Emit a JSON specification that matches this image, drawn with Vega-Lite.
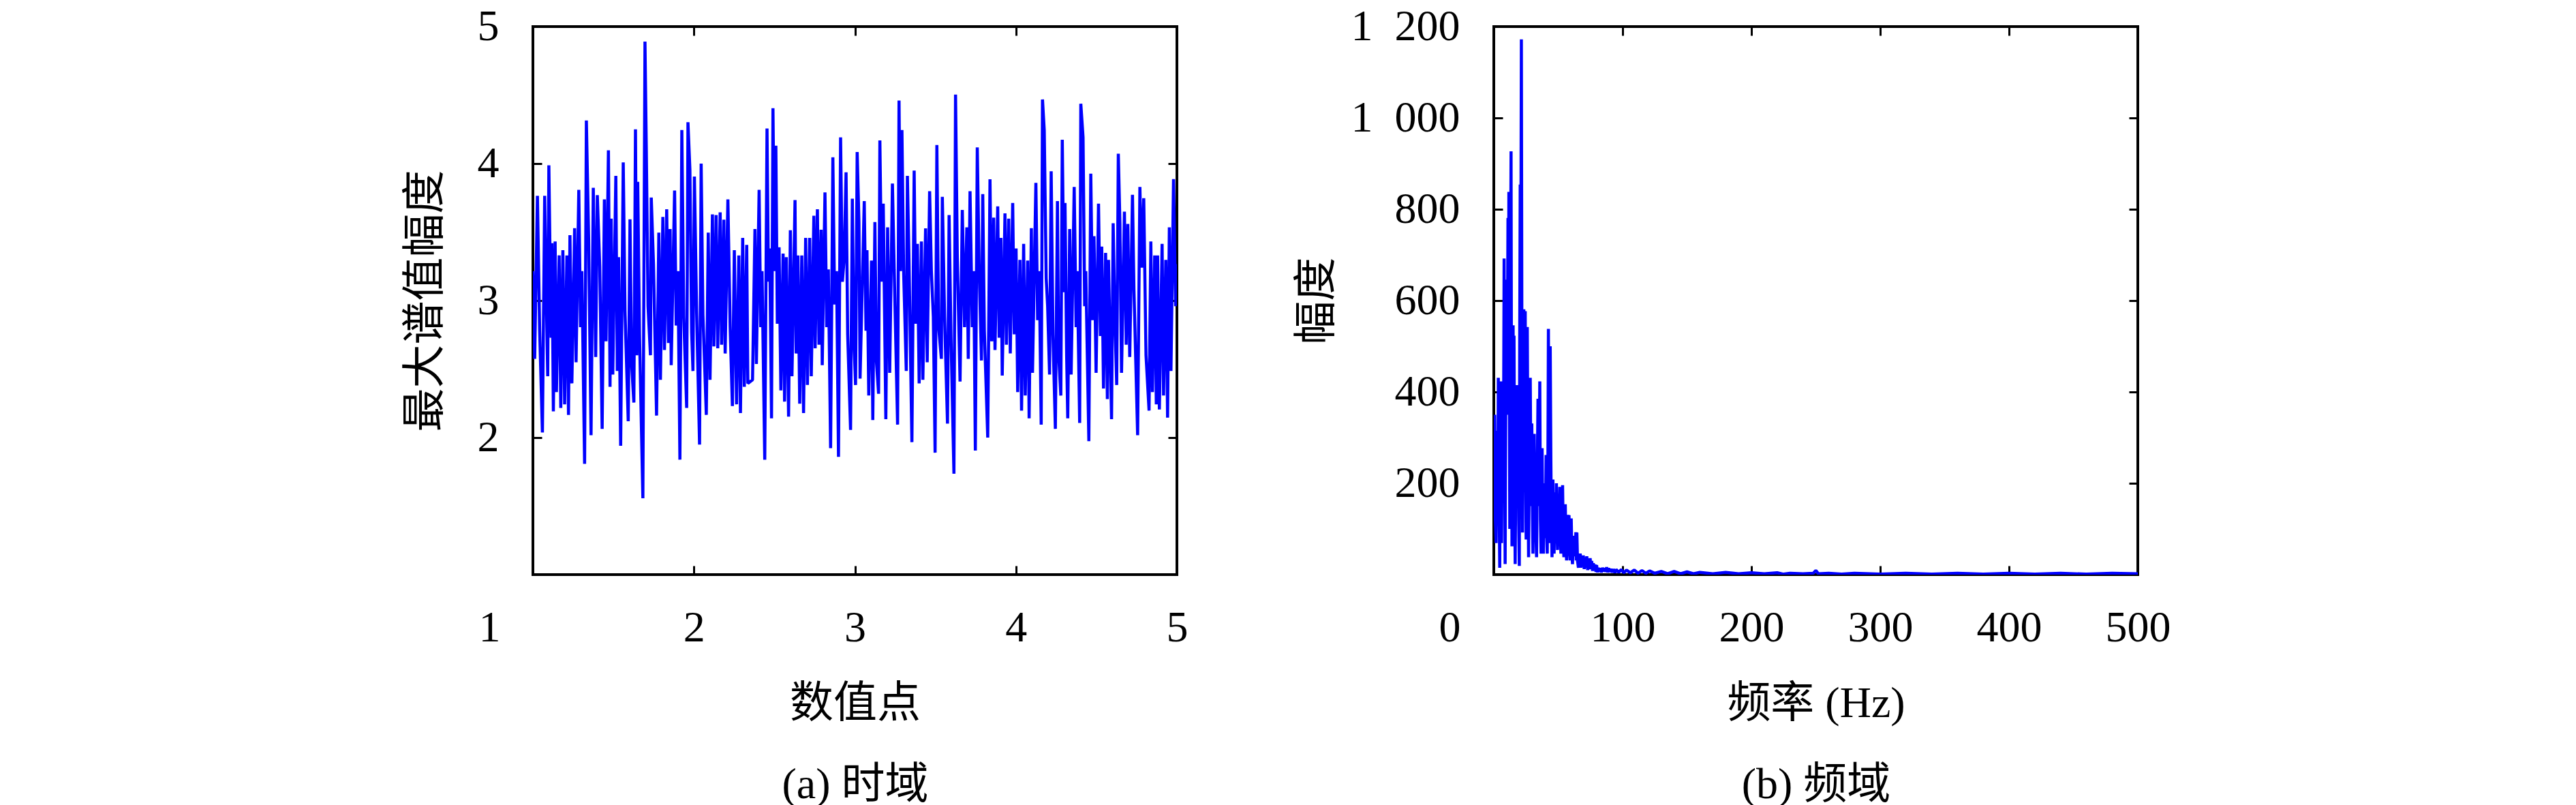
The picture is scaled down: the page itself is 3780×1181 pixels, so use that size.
{
  "$schema": "https://vega.github.io/schema/vega-lite/v6.json",
  "background": "white",
  "padding": {"left": 590, "top": 5, "right": 0, "bottom": 0},
  "spacing": 153,
  "config": {
    "font": "Liberation Serif, Noto Sans CJK SC",
    "view": {"stroke": "black", "strokeWidth": 4},
    "axis": {
      "grid": false,
      "domain": false,
      "labelFont": "Liberation Serif, Noto Sans CJK SC",
      "titleFont": "Liberation Serif, Noto Sans CJK SC",
      "labelFontSize": 64,
      "titleFontSize": 64,
      "titleFontWeight": "normal",
      "labelColor": "black",
      "titleColor": "black",
      "tickColor": "black",
      "tickWidth": 3,
      "tickSize": -13,
      "labelFlush": false,
      "labelOverlap": false,
      "labelBound": false
    },
    "axisX": {"labelPadding": 59, "titlePadding": 47, "titleLineHeight": 119},
    "axisY": {"labelPadding": 63, "titlePadding": 40}
  },
  "datasets": {
    "ts": [
      {"x":1.000,"y":3.215},{"x":1.011,"y":2.575},{"x":1.028,"y":3.765},{"x":1.042,"y":2.780},{"x":1.059,"y":2.038},{"x":1.073,"y":3.765},{"x":1.085,"y":2.908},{"x":1.092,"y":2.448},{"x":1.099,"y":3.987},{"x":1.113,"y":2.729},{"x":1.118,"y":3.419},{"x":1.127,"y":2.192},{"x":1.138,"y":3.432},{"x":1.146,"y":2.332},{"x":1.163,"y":3.330},{"x":1.173,"y":2.217},{"x":1.186,"y":3.368},{"x":1.197,"y":2.243},{"x":1.211,"y":3.330},{"x":1.221,"y":2.166},{"x":1.230,"y":3.478},{"x":1.242,"y":2.396},{"x":1.259,"y":3.529},{"x":1.268,"y":2.550},{"x":1.285,"y":3.808},{"x":1.296,"y":2.806},{"x":1.304,"y":3.215},{"x":1.321,"y":1.808},{"x":1.332,"y":4.314},{"x":1.346,"y":3.458},{"x":1.361,"y":2.018},{"x":1.375,"y":3.823},{"x":1.390,"y":2.588},{"x":1.400,"y":3.770},{"x":1.415,"y":3.253},{"x":1.430,"y":2.064},{"x":1.444,"y":3.739},{"x":1.454,"y":2.703},{"x":1.469,"y":4.097},{"x":1.479,"y":2.371},{"x":1.486,"y":3.598},{"x":1.496,"y":2.460},{"x":1.515,"y":3.910},{"x":1.524,"y":2.486},{"x":1.532,"y":3.317},{"x":1.545,"y":1.941},{"x":1.561,"y":4.008},{"x":1.572,"y":2.921},{"x":1.592,"y":2.120},{"x":1.603,"y":3.593},{"x":1.613,"y":2.537},{"x":1.627,"y":2.256},{"x":1.637,"y":4.250},{"x":1.645,"y":2.601},{"x":1.651,"y":3.867},{"x":1.662,"y":2.754},{"x":1.683,"y":1.557},{"x":1.696,"y":4.890},{"x":1.704,"y":4.135},{"x":1.715,"y":2.959},{"x":1.730,"y":2.601},{"x":1.735,"y":3.752},{"x":1.749,"y":3.266},{"x":1.768,"y":2.161},{"x":1.782,"y":3.496},{"x":1.792,"y":2.422},{"x":1.807,"y":3.611},{"x":1.817,"y":2.640},{"x":1.831,"y":3.667},{"x":1.842,"y":2.691},{"x":1.852,"y":3.522},{"x":1.859,"y":2.529},{"x":1.880,"y":3.803},{"x":1.890,"y":2.818},{"x":1.901,"y":3.215},{"x":1.913,"y":1.839},{"x":1.925,"y":4.245},{"x":1.937,"y":2.882},{"x":1.955,"y":2.217},{"x":1.963,"y":4.302},{"x":1.975,"y":3.956},{"x":1.986,"y":2.767},{"x":1.994,"y":2.486},{"x":2.003,"y":3.905},{"x":2.017,"y":2.908},{"x":2.035,"y":1.949},{"x":2.045,"y":4.000},{"x":2.056,"y":2.895},{"x":2.077,"y":2.166},{"x":2.089,"y":3.496},{"x":2.100,"y":2.422},{"x":2.115,"y":3.629},{"x":2.124,"y":2.665},{"x":2.138,"y":3.624},{"x":2.148,"y":2.652},{"x":2.163,"y":3.644},{"x":2.172,"y":2.678},{"x":2.186,"y":3.591},{"x":2.194,"y":2.614},{"x":2.211,"y":3.739},{"x":2.225,"y":2.806},{"x":2.239,"y":2.230},{"x":2.251,"y":3.368},{"x":2.265,"y":2.243},{"x":2.279,"y":3.330},{"x":2.289,"y":2.179},{"x":2.303,"y":3.458},{"x":2.313,"y":2.371},{"x":2.328,"y":3.407},{"x":2.335,"y":2.396},
      {"x":2.364,"y":2.422},{"x":2.379,"y":3.522},{"x":2.388,"y":2.537},{"x":2.405,"y":3.808},{"x":2.415,"y":2.806},{"x":2.423,"y":3.215},{"x":2.440,"y":1.839},{"x":2.454,"y":4.256},{"x":2.463,"y":3.138},{"x":2.471,"y":3.381},{"x":2.482,"y":2.141},{"x":2.491,"y":4.404},{"x":2.501,"y":3.215},{"x":2.509,"y":4.130},{"x":2.518,"y":2.831},{"x":2.529,"y":3.389},{"x":2.540,"y":2.345},{"x":2.554,"y":3.343},{"x":2.563,"y":2.263},{"x":2.574,"y":3.317},{"x":2.588,"y":2.153},{"x":2.599,"y":3.514},{"x":2.609,"y":2.448},{"x":2.628,"y":3.734},{"x":2.635,"y":2.614},{"x":2.646,"y":3.330},{"x":2.657,"y":2.248},{"x":2.670,"y":3.330},{"x":2.681,"y":2.179},{"x":2.694,"y":3.458},{"x":2.705,"y":2.384},{"x":2.719,"y":3.458},{"x":2.729,"y":2.448},{"x":2.745,"y":3.619},{"x":2.753,"y":2.652},{"x":2.767,"y":3.667},{"x":2.777,"y":2.678},{"x":2.790,"y":3.517},{"x":2.797,"y":2.529},{"x":2.814,"y":3.790},{"x":2.825,"y":2.806},{"x":2.835,"y":3.228},{"x":2.849,"y":1.923},{"x":2.863,"y":4.046},{"x":2.874,"y":2.972},{"x":2.886,"y":3.215},{"x":2.898,"y":1.859},{"x":2.911,"y":4.192},{"x":2.922,"y":3.138},{"x":2.934,"y":3.317},{"x":2.945,"y":3.936},{"x":2.955,"y":2.754},{"x":2.973,"y":2.056},{"x":2.984,"y":3.744},{"x":2.994,"y":2.703},{"x":3.004,"y":2.384},{"x":3.014,"y":4.084},{"x":3.025,"y":3.573},{"x":3.032,"y":2.430},{"x":3.058,"y":3.726},{"x":3.069,"y":2.780},{"x":3.075,"y":3.368},{"x":3.086,"y":2.307},{"x":3.103,"y":3.292},{"x":3.111,"y":2.128},{"x":3.124,"y":3.573},{"x":3.134,"y":2.550},{"x":3.147,"y":2.320},{"x":3.155,"y":4.169},{"x":3.166,"y":3.138},{"x":3.176,"y":3.708},{"x":3.192,"y":2.135},{"x":3.203,"y":3.535},{"x":3.216,"y":2.473},{"x":3.233,"y":3.854},{"x":3.244,"y":3.228},{"x":3.265,"y":2.095},{"x":3.274,"y":4.460},{"x":3.283,"y":3.215},{"x":3.292,"y":4.245},{"x":3.303,"y":3.189},{"x":3.319,"y":2.486},{"x":3.326,"y":3.910},{"x":3.336,"y":3.292},{"x":3.354,"y":1.967},{"x":3.368,"y":3.949},{"x":3.378,"y":2.831},{"x":3.388,"y":3.414},{"x":3.399,"y":2.396},{"x":3.413,"y":3.432},{"x":3.422,"y":2.422},{"x":3.439,"y":3.527},{"x":3.449,"y":2.550},{"x":3.464,"y":3.798},{"x":3.475,"y":3.215},{"x":3.487,"y":2.882},{"x":3.498,"y":1.890},{"x":3.509,"y":4.135},{"x":3.520,"y":2.806},{"x":3.537,"y":2.575},{"x":3.543,"y":3.757},{"x":3.557,"y":2.882},{"x":3.575,"y":2.102},{"x":3.585,"y":3.624},{"x":3.597,"y":2.729},{"x":3.615,"y":1.736},{"x":3.625,"y":4.504},{"x":3.636,"y":3.317},{"x":3.653,"y":2.409},{"x":3.667,"y":3.662},{"x":3.681,"y":2.806},
      {"x":3.695,"y":3.535},{"x":3.704,"y":2.575},{"x":3.715,"y":3.798},{"x":3.729,"y":2.806},{"x":3.738,"y":3.215},{"x":3.748,"y":1.905},{"x":3.760,"y":4.118},{"x":3.772,"y":3.215},{"x":3.786,"y":2.563},{"x":3.794,"y":3.777},{"x":3.804,"y":2.780},{"x":3.825,"y":2.000},{"x":3.839,"y":3.885},{"x":3.850,"y":2.703},{"x":3.862,"y":3.606},{"x":3.870,"y":2.640},{"x":3.887,"y":3.688},{"x":3.896,"y":2.729},{"x":3.907,"y":3.458},{"x":3.915,"y":2.453},{"x":3.932,"y":3.637},{"x":3.941,"y":2.678},{"x":3.955,"y":3.598},{"x":3.965,"y":2.614},{"x":3.980,"y":3.713},{"x":3.990,"y":2.754},{"x":4.001,"y":3.381},{"x":4.011,"y":2.332},{"x":4.025,"y":3.297},{"x":4.035,"y":2.197},{"x":4.048,"y":3.414},{"x":4.058,"y":2.307},{"x":4.073,"y":3.292},{"x":4.082,"y":2.141},{"x":4.096,"y":3.529},{"x":4.103,"y":2.473},{"x":4.124,"y":3.859},{"x":4.135,"y":2.857},{"x":4.145,"y":3.215},{"x":4.157,"y":2.095},{"x":4.165,"y":4.468},{"x":4.176,"y":4.243},{"x":4.188,"y":3.164},{"x":4.197,"y":2.959},{"x":4.209,"y":2.460},{"x":4.219,"y":3.944},{"x":4.230,"y":2.754},{"x":4.245,"y":2.064},{"x":4.258,"y":3.726},{"x":4.265,"y":2.614},{"x":4.279,"y":2.307},{"x":4.288,"y":4.174},{"x":4.298,"y":3.061},{"x":4.305,"y":3.713},{"x":4.315,"y":2.601},{"x":4.322,"y":2.141},{"x":4.334,"y":3.522},{"x":4.343,"y":2.460},{"x":4.362,"y":3.829},{"x":4.374,"y":2.806},{"x":4.381,"y":3.215},{"x":4.396,"y":2.107},{"x":4.403,"y":4.437},{"x":4.417,"y":4.192},{"x":4.427,"y":2.959},{"x":4.434,"y":3.215},{"x":4.453,"y":1.974},{"x":4.465,"y":3.926},{"x":4.477,"y":2.857},{"x":4.485,"y":3.470},{"x":4.498,"y":2.473},{"x":4.513,"y":3.708},{"x":4.525,"y":2.742},{"x":4.533,"y":3.394},{"x":4.544,"y":2.358},{"x":4.557,"y":3.348},{"x":4.568,"y":2.281},{"x":4.575,"y":3.297},{"x":4.594,"y":2.135},{"x":4.604,"y":3.565},{"x":4.616,"y":2.806},{"x":4.626,"y":2.384},{"x":4.636,"y":4.072},{"x":4.646,"y":3.560},{"x":4.656,"y":2.473},{"x":4.674,"y":3.649},{"x":4.685,"y":2.678},{"x":4.695,"y":3.560},{"x":4.707,"y":2.588},{"x":4.724,"y":3.772},{"x":4.733,"y":3.087},{"x":4.756,"y":2.018},{"x":4.770,"y":3.829},{"x":4.781,"y":3.240},{"x":4.794,"y":3.747},{"x":4.808,"y":2.601},{"x":4.827,"y":2.197},{"x":4.838,"y":3.432},{"x":4.848,"y":2.332},{"x":4.862,"y":3.330},{"x":4.872,"y":2.243},{"x":4.880,"y":3.330},{"x":4.891,"y":2.205},{"x":4.908,"y":3.414},{"x":4.917,"y":2.307},{"x":4.931,"y":3.297},{"x":4.942,"y":2.146},{"x":4.953,"y":3.535},{"x":4.963,"y":2.486},{"x":4.979,"y":3.887},{"x":4.992,"y":2.959},{"x":5.000,"y":3.266}
    ],
    "fs": [
      {"f":0.0,"a":270},{"f":0.7,"a":350},{"f":1.2,"a":120},{"f":1.8,"a":69},{"f":2.3,"a":250},{"f":2.8,"a":315},{"f":3.2,"a":150},{"f":3.5,"a":431},{"f":4.0,"a":200},{"f":4.6,"a":15},{"f":5.0,"a":300},{"f":5.3,"a":423},{"f":5.7,"a":180},{"f":6.0,"a":69},{"f":6.5,"a":280},{"f":7.1,"a":419},{"f":7.5,"a":250},{"f":8.0,"a":692},{"f":8.4,"a":300},{"f":8.8,"a":23},{"f":9.3,"a":400},{"f":9.9,"a":646},{"f":10.4,"a":350},{"f":11.0,"a":781},{"f":11.3,"a":420},{"f":11.7,"a":838},{"f":12.0,"a":500},{"f":12.4,"a":100},{"f":12.9,"a":600},{"f":13.4,"a":927},{"f":13.7,"a":400},{"f":14.1,"a":62},{"f":14.5,"a":350},{"f":15.0,"a":546},{"f":15.3,"a":300},{"f":15.7,"a":523},{"f":16.1,"a":200},{"f":16.6,"a":23},{"f":17.1,"a":250},{"f":17.7,"a":415},{"f":18.3,"a":150},{"f":18.9,"a":354},{"f":19.3,"a":120},{"f":19.8,"a":19},{"f":20.1,"a":500},{"f":20.5,"a":854},{"f":21.0,"a":700},{"f":21.4,"a":1172},{"f":21.8,"a":500},{"f":22.3,"a":92},{"f":22.8,"a":350},{"f":23.3,"a":581},{"f":23.8,"a":200},{"f":24.4,"a":577},{"f":24.7,"a":250},{"f":25.1,"a":77},{"f":25.5,"a":300},{"f":26.0,"a":542},{"f":26.5,"a":250},{"f":27.0,"a":38},{"f":27.6,"a":250},{"f":28.3,"a":431},{"f":28.9,"a":150},{"f":29.5,"a":331},{"f":30.0,"a":150},{"f":30.4,"a":46},{"f":30.9,"a":200},{"f":31.4,"a":308},{"f":31.8,"a":180},{"f":32.2,"a":227},{"f":32.7,"a":90},{"f":33.2,"a":38},{"f":33.7,"a":200},{"f":34.3,"a":385},{"f":35.0,"a":150},{"f":35.7,"a":423},{"f":36.2,"a":120},{"f":36.7,"a":46},{"f":37.1,"a":160},{"f":37.5,"a":277},{"f":38.0,"a":120},{"f":38.5,"a":46},{"f":39.0,"a":150},{"f":39.5,"a":200},{"f":40.1,"a":80},{"f":40.6,"a":262},{"f":41.0,"a":100},{"f":41.5,"a":46},{"f":42.0,"a":250},{"f":42.4,"a":538},{"f":42.8,"a":200},{"f":43.3,"a":69},{"f":43.8,"a":500},{"f":44.3,"a":250},{"f":44.7,"a":120},{"f":45.2,"a":38},{"f":45.5,"a":150},{"f":45.9,"a":208},{"f":46.3,"a":100},{"f":46.8,"a":46},{"f":47.3,"a":130},{"f":47.8,"a":180},{"f":48.2,"a":80},{"f":48.6,"a":200},{"f":49.0,"a":100},{"f":49.5,"a":54},{"f":50.0,"a":150},{"f":50.6,"a":110},{"f":51.2,"a":192},{"f":51.7,"a":90},{"f":52.1,"a":46},{"f":52.6,"a":140},{"f":53.0,"a":100},{"f":53.4,"a":196},{"f":53.9,"a":80},{"f":54.4,"a":38},{"f":54.9,"a":120},{"f":55.5,"a":154},{"f":56.0,"a":70},{"f":56.5,"a":31},{"f":57.0,"a":100},{"f":57.6,"a":131},{"f":58.1,"a":60},{"f":58.4,"a":130},{"f":58.8,"a":50},{"f":59.2,"a":31},{"f":59.6,"a":90},{"f":60.1,"a":123},{"f":60.6,"a":50},{"f":61.1,"a":23},{"f":61.6,"a":70},{"f":62.2,"a":60},{"f":62.7,"a":85},{"f":63.2,"a":40},{"f":63.7,"a":93},{"f":64.0,"a":31},{"f":64.5,"a":92},{"f":65.0,"a":30},{"f":65.7,"a":15},{"f":65.9,"a":45},{"f":66.5,"a":20},{"f":67.1,"a":46},{"f":67.6,"a":15},{"f":68.2,"a":40},{"f":68.9,"a":23},{"f":69.5,"a":42},{"f":70.2,"a":12},{"f":70.8,"a":38},{"f":71.5,"a":15},{"f":72.2,"a":40},{"f":72.9,"a":10},{"f":73.5,"a":35},{"f":74.2,"a":12},{"f":74.8,"a":36},{"f":75.4,"a":15},{"f":76.0,"a":30},{"f":76.7,"a":8},{"f":77.3,"a":25},{"f":78.0,"a":10},{"f":78.6,"a":22},{"f":79.3,"a":6},{"f":79.8,"a":21},{"f":80.5,"a":5},{"f":81.2,"a":15},{"f":82.0,"a":6},{"f":82.8,"a":14},{"f":83.6,"a":5},{"f":84.4,"a":15},{"f":85.2,"a":7},{"f":86.0,"a":14},{"f":86.8,"a":6},{"f":87.6,"a":16},{"f":88.4,"a":5},{"f":89.2,"a":14},{"f":90.0,"a":6},{"f":91.0,"a":12},{"f":92.0,"a":5},{"f":93.0,"a":12},{"f":94.0,"a":4},{"f":95.0,"a":11},{"f":97,"a":5},{"f":99,"a":11},{"f":101,"a":4},{"f":103,"a":10},{"f":106,"a":4},{"f":109,"a":10},{"f":112,"a":3},{"f":115,"a":9},{"f":118,"a":3},{"f":121,"a":8},{"f":125,"a":3},{"f":130,"a":7},{"f":135,"a":2},{"f":140,"a":7},{"f":145,"a":2},{"f":150,"a":6},{"f":155,"a":2},{"f":160,"a":5},{"f":170,"a":2},{"f":180,"a":5},{"f":190,"a":2},{"f":200,"a":4},{"f":210,"a":2},{"f":220,"a":4},{"f":225,"a":1},{"f":230,"a":3},{"f":240,"a":2},{"f":248,"a":3},{"f":250,"a":9},{"f":252,"a":2},{"f":260,"a":3},{"f":270,"a":1},{"f":280,"a":3},{"f":300,"a":1},{"f":320,"a":3},{"f":340,"a":1},{"f":360,"a":3},{"f":380,"a":1},{"f":400,"a":3},{"f":420,"a":1},{"f":440,"a":3},{"f":460,"a":1},{"f":480,"a":3},{"f":500,"a":2}
    ]
  },
  "hconcat": [
    {
      "width": 945,
      "height": 804,
      "data": {"name": "ts"},
      "layer": [
        {
          "mark": {"type": "line", "color": "#0000ff", "strokeWidth": 4.5, "strokeJoin": "bevel", "clip": true},
          "encoding": {
            "x": {"field": "x", "type": "quantitative", "scale": {"domain": [1, 5], "nice": false, "zero": false},
              "axis": {"orient": "bottom", "values": [1, 2, 3, 4, 5], "title": ["数值点", "(a) 时域"],
                "labelOffset": {"condition": {"test": "datum.value == 1", "value": -64}, "value": 0}}},
            "y": {"field": "y", "type": "quantitative", "scale": {"domain": [1, 5], "nice": false, "zero": false},
              "axis": {"orient": "left", "values": [2, 3, 4, 5], "title": "最大谱值幅度", "titlePadding": 44}}
          }
        },
        {
          "mark": {"type": "point", "opacity": 0, "size": 0},
          "encoding": {
            "x": {"field": "x", "type": "quantitative", "scale": {"domain": [1, 5], "nice": false, "zero": false},
              "axis": {"orient": "top", "values": [2, 3, 4], "labels": false, "title": null}},
            "y": {"field": "y", "type": "quantitative", "scale": {"domain": [1, 5], "nice": false, "zero": false},
              "axis": {"orient": "right", "values": [2, 3, 4], "labels": false, "title": null}}
          }
        }
      ],
      "resolve": {"axis": {"x": "independent", "y": "independent"}}
    },
    {
      "width": 945,
      "height": 804,
      "data": {"name": "fs"},
      "layer": [
        {
          "mark": {"type": "line", "color": "#0000ff", "strokeWidth": 4.5, "strokeJoin": "bevel", "clip": true},
          "encoding": {
            "x": {"field": "f", "type": "quantitative", "scale": {"domain": [0, 500], "nice": false},
              "axis": {"orient": "bottom", "values": [0, 100, 200, 300, 400, 500], "title": ["频率 (Hz)", "(b) 频域"],
                "labelOffset": {"condition": {"test": "datum.value == 0", "value": -65}, "value": 0}}},
            "y": {"field": "a", "type": "quantitative", "scale": {"domain": [0, 1200], "nice": false},
              "axis": {"orient": "left", "values": [200, 400, 600, 800, 1000, 1200], "title": "幅度", "titlePadding": 28,
                "labelExpr": "datum.value >= 1000 ? floor(datum.value / 1000) + '\u00a0\u00a0' + replace(format(datum.value % 1000, '03d'), ',', '') : datum.label"}}
          }
        },
        {
          "mark": {"type": "point", "opacity": 0, "size": 0},
          "encoding": {
            "x": {"field": "f", "type": "quantitative", "scale": {"domain": [0, 500], "nice": false},
              "axis": {"orient": "top", "values": [100, 200, 300, 400], "labels": false, "title": null}},
            "y": {"field": "a", "type": "quantitative", "scale": {"domain": [0, 1200], "nice": false},
              "axis": {"orient": "right", "values": [200, 400, 600, 800, 1000], "labels": false, "title": null}}
          }
        }
      ],
      "resolve": {"axis": {"x": "independent", "y": "independent"}}
    }
  ]
}
